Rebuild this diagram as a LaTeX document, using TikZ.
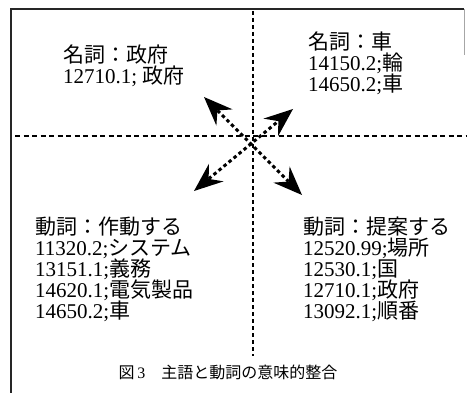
\documentclass[tikz,border=0pt]{standalone}
\usepackage{fontspec}
\setmainfont{Liberation Serif}
\newfontfamily\cjk{Noto Sans CJK JP}
\usetikzlibrary{arrows.meta}
\tikzset{
  frameline/.style={line width=1.6pt, black!85},
  divider/.style={line width=1.3pt, dash pattern=on 4pt off 3pt},
  bighead/.tip={Stealth[length=29pt,width=23pt,inset=10pt,line width=0pt]},
  dotarrow/.style={line width=3pt, dash pattern=on 3.5pt off 3pt, bighead-bighead},
  block/.style={anchor=base west, inner sep=0pt, align=left, font=\fontsize{21}{21}\selectfont},
  captxt/.style={anchor=base, inner sep=0pt, font=\fontsize{16}{17}\selectfont}
}
\begin{document}
\begin{tikzpicture}[x=1pt,y=-1pt]
\useasboundingbox (0,0) rectangle (468,393);
% frame
\coordinate (fbl) at (11,393);
\coordinate (ftl) at (11,9);
\coordinate (ftr) at (464,9);
\coordinate (frb) at (464,55);
\draw[frameline] (fbl) -- (ftl) -- (ftr);
\draw[line width=0.8pt, black!35] (ftr) -- (frb);
% dividers
\coordinate (vt) at (253,11);
\coordinate (vb) at (253,356);
\coordinate (hl) at (15,136);
\coordinate (hr) at (466,136);
\draw[divider] (vt) -- (vb);
\draw[divider, dash pattern=on 5pt off 3.5pt] (hl) -- (hr);
% arrows
\coordinate (ul) at (204,97);
\coordinate (lr) at (302,195);
\coordinate (ur) at (293,109);
\coordinate (ll) at (194,191);
\draw[dotarrow] (ul) -- (lr);
\draw[dotarrow] (ll) -- (ur);
% texts (base = last line)
\node[block] (tl) at (63,84) {{\cjk 名詞：政府}\\12710.1; {\cjk 政府}};
\node[block] (tr) at (308,92) {{\cjk 名詞：車}\\14150.2;{\cjk 輪}\\14650.2;{\cjk 車}};
\node[block] (bl) at (35,318) {{\cjk 動詞：作動する}\\11320.2;{\cjk システム}\\13151.1;{\cjk 義務}\\14620.1;{\cjk 電気製品}\\14650.2;{\cjk 車}};
\node[block] (br) at (303,318) {{\cjk 動詞：提案する}\\12520.99;{\cjk 場所}\\12530.1;{\cjk 国}\\12710.1;{\cjk 政府}\\13092.1;{\cjk 順番}};
\node[captxt] (cap) at (228,378) {{\cjk 図}\,3\quad{\cjk 主語と動詞の意味的整合}};
\end{tikzpicture}
\end{document}
